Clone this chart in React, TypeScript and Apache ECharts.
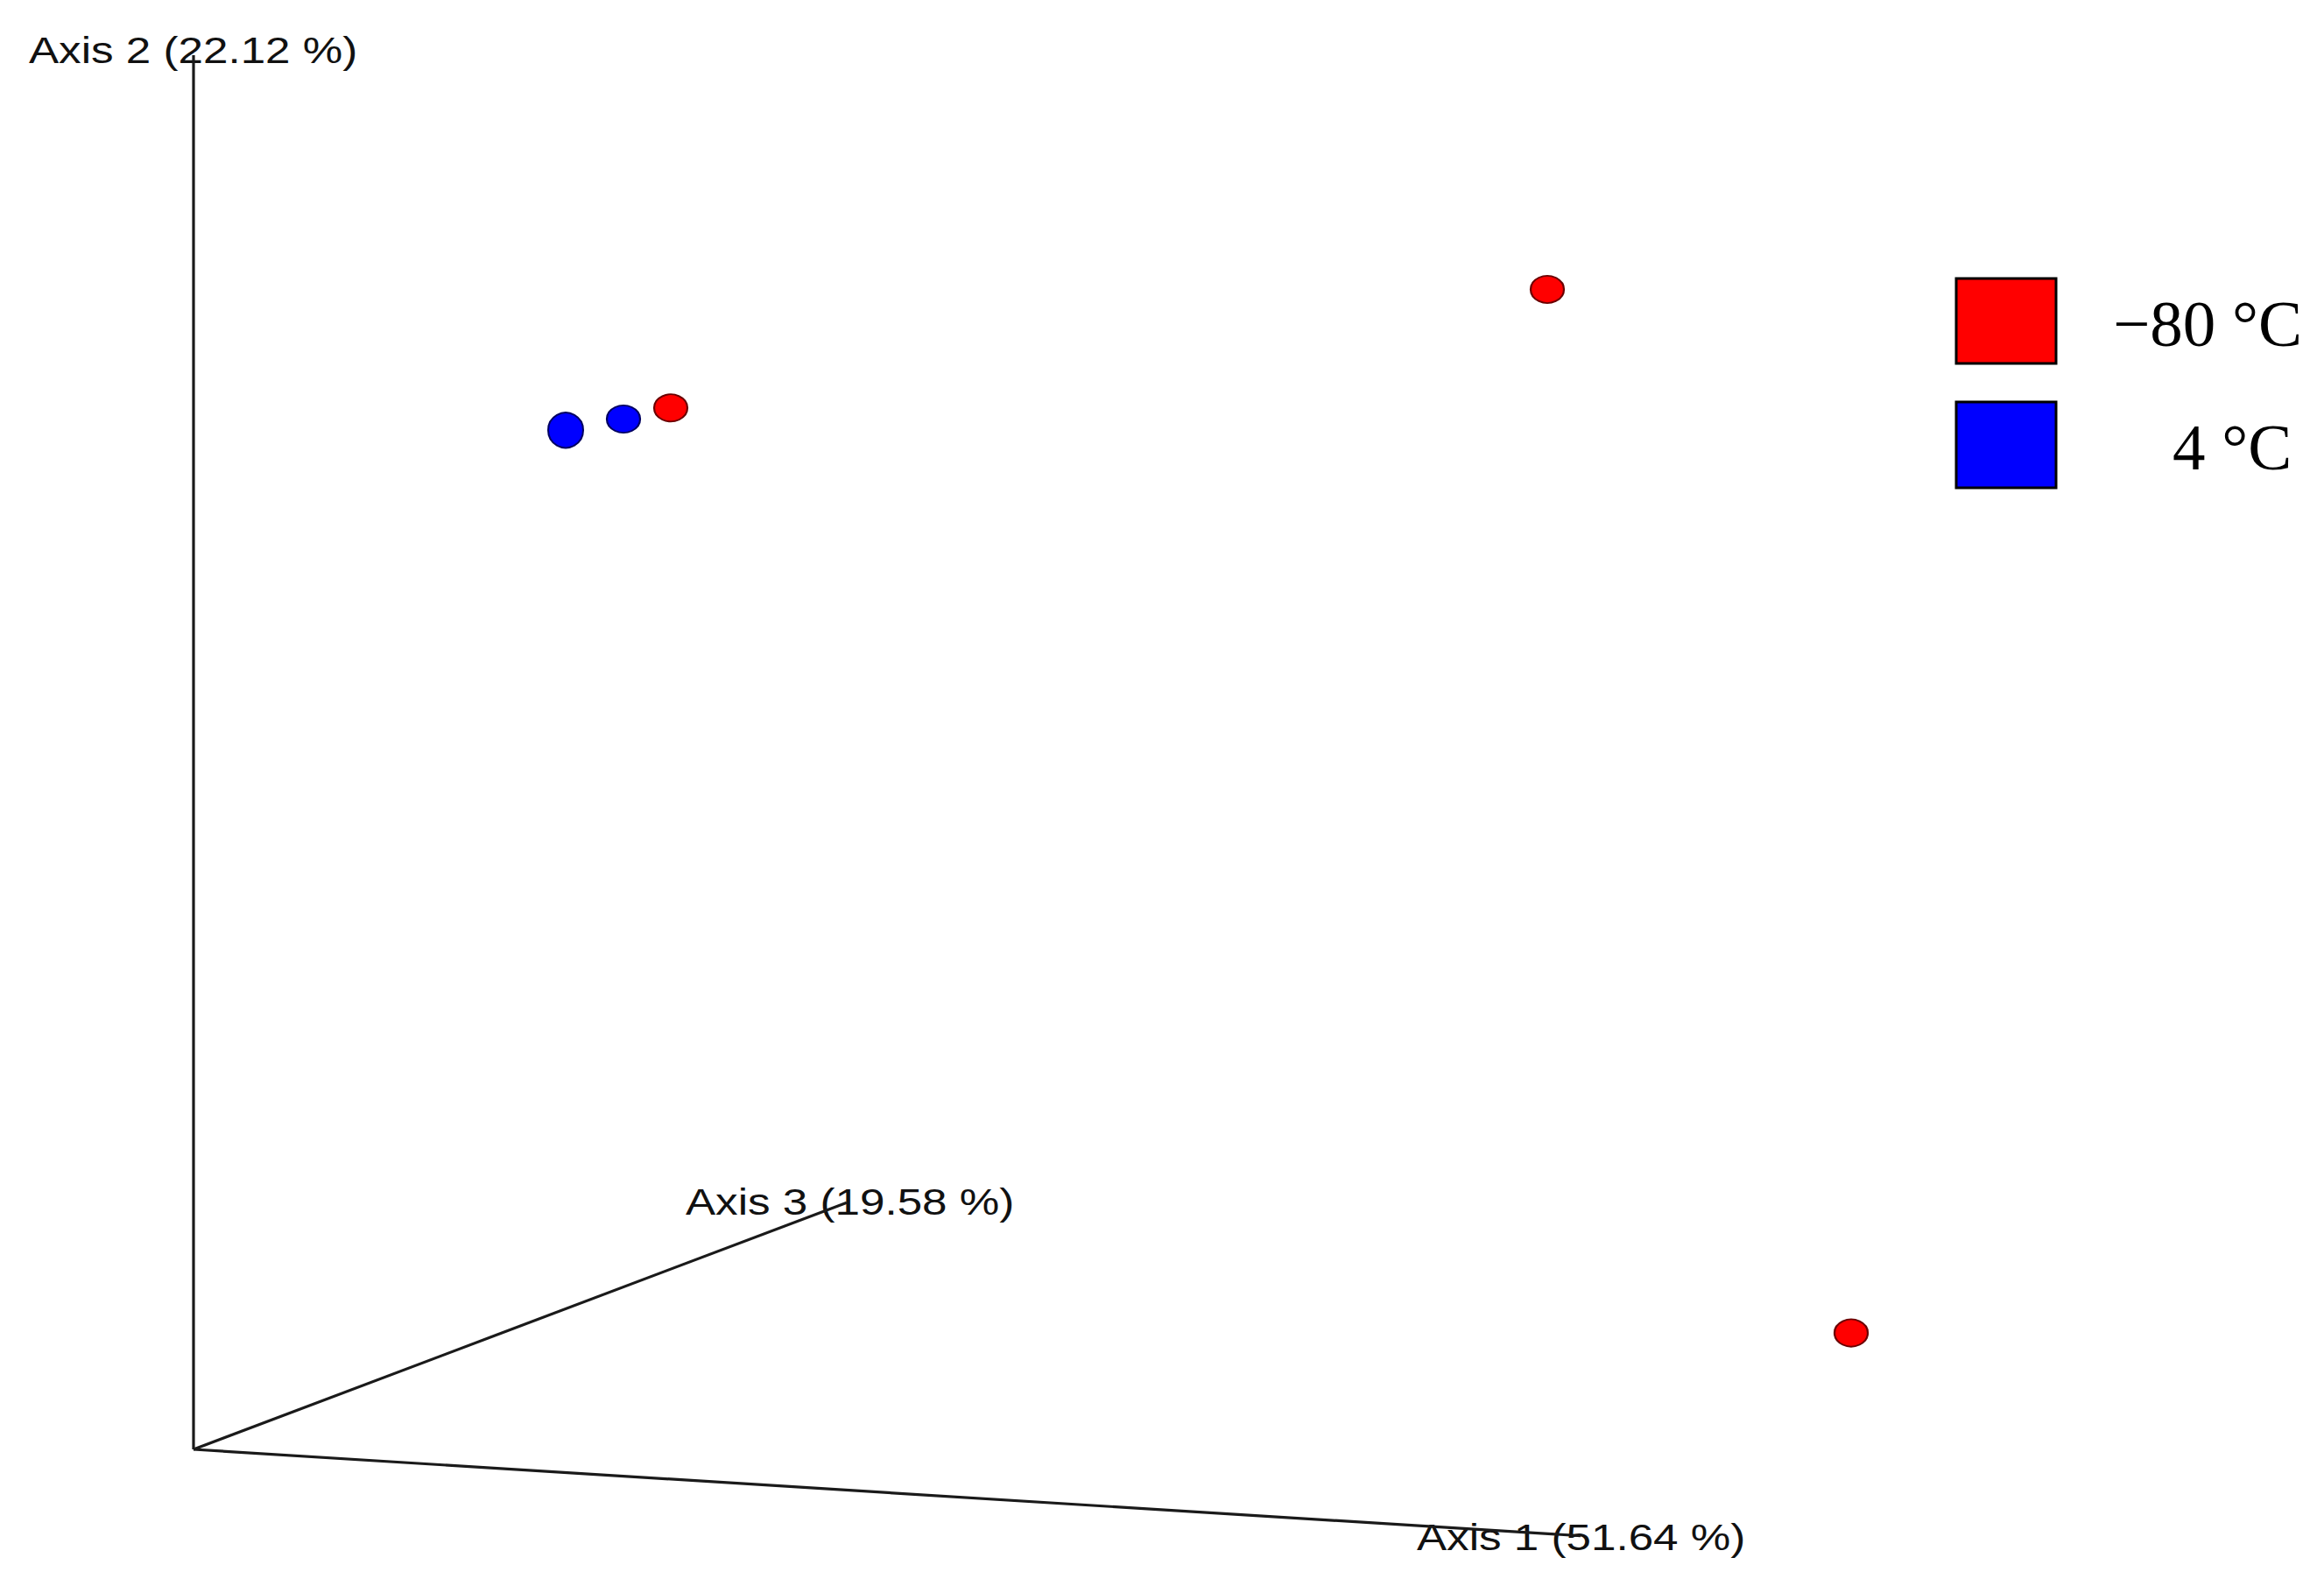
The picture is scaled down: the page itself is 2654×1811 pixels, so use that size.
import React, { useEffect, useRef } from "react";
import * as echarts from "echarts";

// PCoA sample positions in the projected plane (units of the hidden plot scale)
const coldSamples: [number, number][] = [
  [77.3, 83.2],
  [27.25, 74.7],
  [94.65, 8.35],
];
const fridgeSamples: [number, number][] = [
  [24.55, 73.9],
  [21.25, 73.1],
];
const fridgeSizes: [number, number][] = [
  [38, 31],
  [40, 40],
];

// 3D axes projected to the plane: end points from the origin
const axisNames = ["Axis 1 (51.64 %)", "Axis 2 (22.12 %)", "Axis 3 (19.58 %)"];
const axisEnds: [number, number][] = [
  [79.2, -6.2],
  [0, 100],
  [37.3, 17.7],
];
const legendNames = ["\u221280 \u00b0C", "4 \u00b0C"];
const legendColors = ["#ff0000", "#0000ff"];

export default function App() {
  const ref = useRef<HTMLDivElement>(null);
  useEffect(() => {
    if (!ref.current) return;
    const chart = echarts.init(ref.current, undefined, { renderer: "svg" });
    const x0 = 221;
    const xPx = 20; // px per unit
    const yTop = 63;
    const yOrigin = 1655;
    const yPx = (yOrigin - yTop) / 100;
    const xMin = 0, xMax = 100, yMin = -8, yMax = 100;
    const gridLeft = x0 + xMin * xPx;
    const gridWidth = (xMax - xMin) * xPx;
    const gridTop = yTop;
    const gridHeight = (yMax - yMin) * yPx;

    const axisSeries = axisEnds.map((end, i) => ({
      type: "line",
      name: axisNames[i],
      data: [[0, 0], end],
      symbol: "none",
      lineStyle: { color: "#1a1a1a", width: 3.2 },
      z: 1,
      silent: true,
    }));

    const labelFont = (size: number) => ({
      font: `${size}px "Liberation Sans", Arial, sans-serif`,
      fill: "#111111",
      align: "left",
      verticalAlign: "middle",
    });

    chart.setOption({
      animation: false,
      backgroundColor: "#ffffff",
      grid: { left: gridLeft, top: gridTop, width: gridWidth, height: gridHeight },
      xAxis: { type: "value", min: xMin, max: xMax, show: false },
      yAxis: { type: "value", min: yMin, max: yMax, show: false },
      series: [
        ...axisSeries,
        {
          type: "scatter",
          name: legendNames[0],
          data: coldSamples,
          symbol: "circle",
          symbolSize: [38, 31],
          itemStyle: { color: legendColors[0], borderColor: "#6a0000", borderWidth: 2, opacity: 1 },
          z: 3,
          clip: false,
        },
        {
          type: "scatter",
          name: legendNames[1],
          data: fridgeSamples.map((p, i) => ({ value: p, symbolSize: fridgeSizes[i] })),
          symbol: "circle",
          itemStyle: { color: legendColors[1], borderColor: "#000060", borderWidth: 2, opacity: 1 },
          z: 3,
          clip: false,
        },
      ],
      graphic: [
        { type: "text", x: 33, y: 57, scaleX: 1.19, style: { text: axisNames[1], ...labelFont(43) } },
        { type: "text", x: 783, y: 1372, scaleX: 1.19, style: { text: axisNames[2], ...labelFont(43) } },
        { type: "text", x: 1618, y: 1755, scaleX: 1.19, style: { text: axisNames[0], ...labelFont(43) } },
        {
          type: "rect",
          shape: { x: 2234, y: 318, width: 114, height: 97 },
          style: { fill: legendColors[0], stroke: "#000", lineWidth: 3 },
        },
        {
          type: "rect",
          shape: { x: 2234, y: 459, width: 114, height: 98 },
          style: { fill: legendColors[1], stroke: "#000", lineWidth: 3 },
        },
        {
          type: "text",
          x: 2413,
          y: 369,
          style: {
            text: legendNames[0],
            font: '75px "Liberation Serif", "Times New Roman", serif',
            fill: "#000",
            align: "left",
            verticalAlign: "middle",
          },
        },
        {
          type: "text",
          x: 2481,
          y: 510,
          style: {
            text: legendNames[1],
            font: '75px "Liberation Serif", "Times New Roman", serif',
            fill: "#000",
            align: "left",
            verticalAlign: "middle",
          },
        },
      ],
    });
    return () => chart.dispose();
  }, []);
  return (
    <div
      ref={ref}
      style={{ position: "absolute", left: 0, top: 0, width: 2654, height: 1811, background: "#fff" }}
    />
  );
}
